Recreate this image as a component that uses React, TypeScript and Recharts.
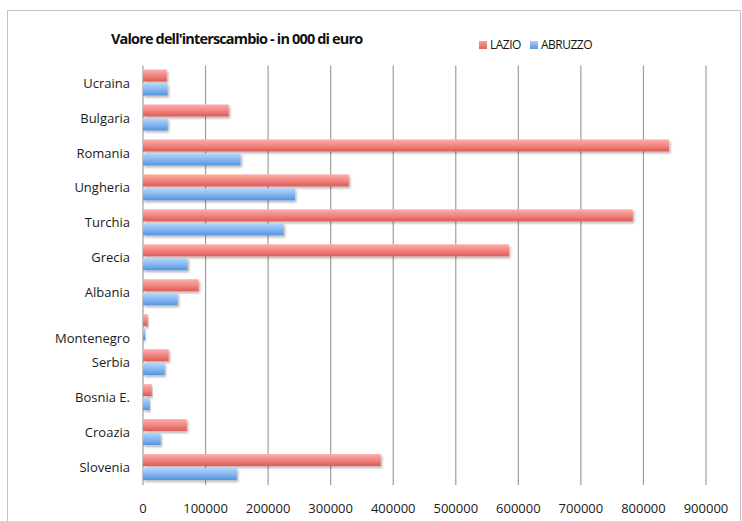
import React from "react";
import { BarChart, Bar, XAxis, YAxis, CartesianGrid } from "recharts";

// valori (migliaia di euro)
const countries = [
  "Ucraina",
  "Bulgaria",
  "Romania",
  "Ungheria",
  "Turchia",
  "Grecia",
  "Albania",
  "Montenegro",
  "Serbia",
  "Bosnia E.",
  "Croazia",
  "Slovenia",
];
const lazio = [38000, 137000, 841000, 329000, 783000, 585000, 89000, 7500, 41000, 14000, 70000, 380000];
const abruzzo = [39500, 39500, 156000, 243000, 225000, 71500, 55500, 4000, 34700, 10700, 28300, 150000];
const xTicks = [0, 100000, 200000, 300000, 400000, 500000, 600000, 700000, 800000, 900000];

const chartData = countries.map((country, i) => ({
  country,
  LAZIO: lazio[i],
  ABRUZZO: abruzzo[i],
}));

const FONT = "'Open Sans', 'Noto Sans', sans-serif";

function CountryTick({ x, y, payload }: any) {
  // nel grafico originale l'etichetta Montenegro è più in basso
  const shift = payload.value === "Montenegro" ? 11 : 0;
  return (
    <text x={x} y={y + shift} dy="0.355em" textAnchor="end" fill="#1a1a1a" fontSize={13} fontFamily={FONT}>
      {payload.value}
    </text>
  );
}

function ShadowBar(props: any) {
  const { x, y, width, height, fill } = props;
  if (!width || width <= 0) return null;
  return <rect x={x} y={y} width={width} height={height} fill={fill} filter="url(#barShadow)" />;
}

export default function App() {
  return (
    <div style={{ position: "fixed", left: 0, top: 0, width: 742, height: 521, overflow: "hidden", background: "#fff" }}>
      <div
        style={{
          position: "absolute",
          left: 7,
          top: 10,
          width: 734,
          height: 560,
          border: "1px solid #c2c2c2",
          boxSizing: "border-box",
        }}
      />
      <div
        style={{
          position: "absolute",
          left: 111,
          top: 29,
          fontFamily: FONT,
          fontWeight: 700,
          fontSize: 14.5,
          letterSpacing: -0.85,
          color: "#111",
          whiteSpace: "nowrap",
        }}
      >
        Valore dell'interscambio - in 000 di euro
      </div>
      <div
        style={{
          position: "absolute",
          left: 479,
          top: 36,
          display: "flex",
          alignItems: "center",
          fontFamily: FONT,
          fontSize: 12,
          letterSpacing: -0.5,
          color: "#111",
          whiteSpace: "nowrap",
        }}
      >
        <span style={{ width: 8, height: 8, background: "linear-gradient(#f9a09c, #e0605a)", marginRight: 3 }} />
        <span style={{ marginRight: 9 }}>LAZIO</span>
        <span style={{ width: 8, height: 8, background: "linear-gradient(#a8cffa, #5898de)", marginRight: 3 }} />
        <span>ABRUZZO</span>
      </div>
      <div style={{ position: "absolute", left: 0, top: 0 }}>
        <BarChart
          width={742}
          height={521}
          data={chartData}
          layout="vertical"
          margin={{ top: 65.5, right: 36, bottom: 0, left: 0 }}
          barSize={12}
          barGap={2}
        >
          <defs>
            <linearGradient id="gradLazio" x1="0" y1="0" x2="0" y2="1">
              <stop offset="0%" stopColor="#fdaeaa" />
              <stop offset="50%" stopColor="#f18682" />
              <stop offset="100%" stopColor="#dc5b55" />
            </linearGradient>
            <linearGradient id="gradAbruzzo" x1="0" y1="0" x2="0" y2="1">
              <stop offset="0%" stopColor="#b2d6fd" />
              <stop offset="50%" stopColor="#86b7f0" />
              <stop offset="100%" stopColor="#5494dc" />
            </linearGradient>
            <filter id="barShadow" x="-5%" y="-30%" width="115%" height="190%">
              <feDropShadow dx="1.5" dy="2" stdDeviation="1.2" floodColor="#000" floodOpacity="0.28" />
            </filter>
          </defs>
          <CartesianGrid horizontal={false} stroke="#9e9e9e" strokeWidth={1.2} />
          <XAxis
            type="number"
            domain={[0, 900000]}
            ticks={xTicks}
            interval={0}
            axisLine={false}
            tickLine={false}
            tickMargin={13}
            height={36}
            tick={{ fill: "#1a1a1a", fontSize: 13, fontFamily: FONT }}
          />
          <YAxis
            type="category"
            dataKey="country"
            width={143}
            axisLine={false}
            tickLine={false}
            tickMargin={7}
            interval={0}
            tick={<CountryTick />}
          />
          <Bar dataKey="LAZIO" fill="url(#gradLazio)" shape={ShadowBar} isAnimationActive={false} />
          <Bar dataKey="ABRUZZO" fill="url(#gradAbruzzo)" shape={ShadowBar} isAnimationActive={false} />
        </BarChart>
      </div>
    </div>
  );
}
